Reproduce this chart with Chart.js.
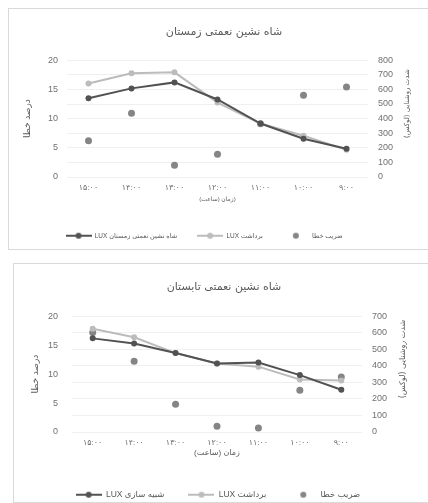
<!DOCTYPE html>
<html>
<head>
<meta charset="utf-8">
<script src="https://cdn.jsdelivr.net/npm/chart.js@4.4.1/dist/chart.umd.min.js"></script>
<style>
body { margin: 0; background: #fff; width: 428px; height: 503px; overflow: hidden; position: relative; }
.marco { position: absolute; border: 1px solid #d9d9d9; background: #fff; }
#marco1 { left: 8px; top: 8px; width: 430px; height: 240px; }
#marco2 { left: 13px; top: 263px; width: 420px; height: 238px; }
canvas { display: block; }
</style>
</head>
<body>
<div class="marco" id="marco1"><canvas id="grafica1"></canvas></div>
<div class="marco" id="marco2"><canvas id="grafica2"></canvas></div>
<script>
// horas, de izquierda a derecha como en el original
var horas = ['۱۵:۰۰', '۱۴:۰۰', '۱۳:۰۰', '۱۲:۰۰', '۱۱:۰۰', '۱۰:۰۰', '۹:۰۰'];

// invierno (زمستان)
var invierno_sim = [540, 607, 648, 531, 366, 262, 193];
var invierno_medido = [641, 710, 717, 510, 366, 283, 186];
var invierno_error = [6.2, 10.9, 2.0, 3.9, 9.1, 14.0, 15.4];

// verano (تابستان)
var verano_sim = [566, 535, 477, 414, 420, 344, 255];
var verano_medido = [624, 573, 477, 414, 395, 318, 312];
var verano_error = [17.2, 12.2, 4.8, 1.0, 0.7, 7.2, 9.5];

var ticksError = [0, 5, 10, 15, 20];

Chart.defaults.font.family = "'Liberation Sans', 'DejaVu Sans', sans-serif";
Chart.defaults.color = '#707070';

var oscuro = '#525252';
var claro = '#bcbcbc';
var gris = '#858585';

function icono(color, conLinea) {
    var c = document.createElement('canvas');
    c.width = 26; c.height = 8;
    var g = c.getContext('2d');
    if (conLinea) {
        g.strokeStyle = color; g.lineWidth = 2;
        g.beginPath(); g.moveTo(0, 4); g.lineTo(26, 4); g.stroke();
    }
    g.fillStyle = color;
    g.beginPath(); g.arc(13, 4, 3, 0, Math.PI * 2); g.fill();
    return c;
}
var iconos = [icono(oscuro, true), icono(claro, true), icono(gris, false)];

// titulo del eje derecho, girado como en Excel (de abajo hacia arriba)
// y la leyenda corrida un poco a la izquierda
var ajustes = {
    id: 'ajustes',
    afterLayout: function(chart, args, opts) {
        chart.legend.left += opts.corrLeyenda;
        chart.legend.right += opts.corrLeyenda;
    },
    afterDraw: function(chart, args, opts) {
        var a = chart.chartArea, c = chart.ctx;
        c.save();
        c.translate(opts.x, (a.top + a.bottom) / 2 - 15);
        c.rotate(-Math.PI / 2);
        c.font = opts.size + "px 'DejaVu Sans', sans-serif";
        c.fillStyle = '#595959';
        c.textAlign = 'center';
        c.textBaseline = 'middle';
        c.fillText(opts.text, 0, 0);
        c.restore();
    }
};

function crearGrafica(id, titulo, tituloX, nombreSim, sim, medido, error, maxLux, m) {
    var ctx = document.getElementById(id).getContext('2d');
    return new Chart(ctx, {
        type: 'line',
        plugins: [ajustes],
        data: {
            labels: horas,
            datasets: [{
                label: nombreSim,
                data: sim,
                yAxisID: 'y1',
                borderColor: oscuro,
                backgroundColor: oscuro,
                borderWidth: 2,
                pointRadius: 3,
                pointBorderWidth: 0
            }, {
                label: 'LUX برداشت',
                data: medido,
                yAxisID: 'y1',
                borderColor: claro,
                backgroundColor: claro,
                borderWidth: 2,
                pointRadius: 3,
                pointBorderWidth: 0
            }, {
                label: 'ضریب خطا',
                data: error,
                yAxisID: 'y',
                showLine: false,
                borderColor: gris,
                backgroundColor: gris,
                pointRadius: 3.5,
                pointBorderWidth: 0
            }]
        },
        options: {
            responsive: true,
            maintainAspectRatio: false,
            animation: false,
            layout: { padding: { left: 0, right: 0, top: 0, bottom: m.padAbajo } },
            plugins: {
                title: {
                    display: true,
                    text: titulo,
                    color: '#595959',
                    font: { size: 11, weight: 'normal', family: "'DejaVu Sans', sans-serif" },
                    padding: { top: 17, bottom: m.titPad }
                },
                legend: {
                    position: 'bottom',
                    labels: {
                        usePointStyle: true,
                        pointStyleWidth: 26,
                        padding: m.legPad,
                        color: '#595959',
                        font: { size: m.legFont },
                        generateLabels: function(chart) {
                            var items = Chart.defaults.plugins.legend.labels.generateLabels(chart);
                            items.forEach(function(it, i) { it.pointStyle = iconos[i]; });
                            return items;
                        }
                    }
                },
                tooltip: { enabled: false },
                ajustes: { text: 'شدت روشنایی (لوکس)', x: m.titDerX, size: m.titDerFont, corrLeyenda: m.corrLeyenda }
            },
            scales: {
                x: {
                    offset: true,
                    grid: { display: false, drawTicks: false },
                    border: { display: false },
                    ticks: { font: { size: 8 }, padding: 6 },
                    title: { display: true, text: tituloX, color: '#595959', font: { size: m.xFont }, padding: { top: 0, bottom: m.xTitPad } },
                    afterFit: function(s) { s.height = m.altoX; }
                },
                y: {
                    position: 'left',
                    min: 0, max: 20,
                    afterBuildTicks: function(s) { s.ticks = ticksError.map(function(v) { return { value: v }; }); },
                    grid: { display: false, drawTicks: false },
                    border: { display: false },
                    ticks: { font: { size: 9 }, padding: m.yPad },
                    title: { display: true, text: 'درصد خطا', color: '#595959', font: { size: 9 }, padding: m.yTitPad },
                    afterFit: function(s) { s.width = 58; }
                },
                y1: {
                    position: 'right',
                    min: 0, max: maxLux,
                    ticks: { stepSize: 100, autoSkip: false, font: { size: 9 }, padding: 10 },
                    grid: { color: '#efefef', drawTicks: false },
                    border: { display: false },
                    afterFit: function(s) { s.width = m.anchoDer; }
                }
            }
        }
    });
}

crearGrafica('grafica1', 'شاه نشین نعمتی زمستان', 'زمان (ساعت))', 'LUX شاه نشین نعمتی زمستان',
    invierno_sim, invierno_medido, invierno_error, 800,
    { padAbajo: 0, titPad: 21, legPad: 20, legFont: 6.5, xFont: 6, xTitPad: 9.9, altoX: 35.5,
      yPad: 9, yTitPad: 13, anchoDer: 71, titDerX: 398, titDerFont: 7, corrLeyenda: -20 });
crearGrafica('grafica2', 'شاه نشین نعمتی تابستان', 'زمان (ساعت)', 'LUX شبیه سازی',
    verano_sim, verano_medido, verano_error, 700,
    { padAbajo: -7, titPad: 22, legPad: 24, legFont: 8.5, xFont: 8, xTitPad: 8.7, altoX: 34.5,
      yPad: 14, yTitPad: 16, anchoDer: 72, titDerX: 389, titDerFont: 8, corrLeyenda: -6 });
</script>
</body>
</html>
